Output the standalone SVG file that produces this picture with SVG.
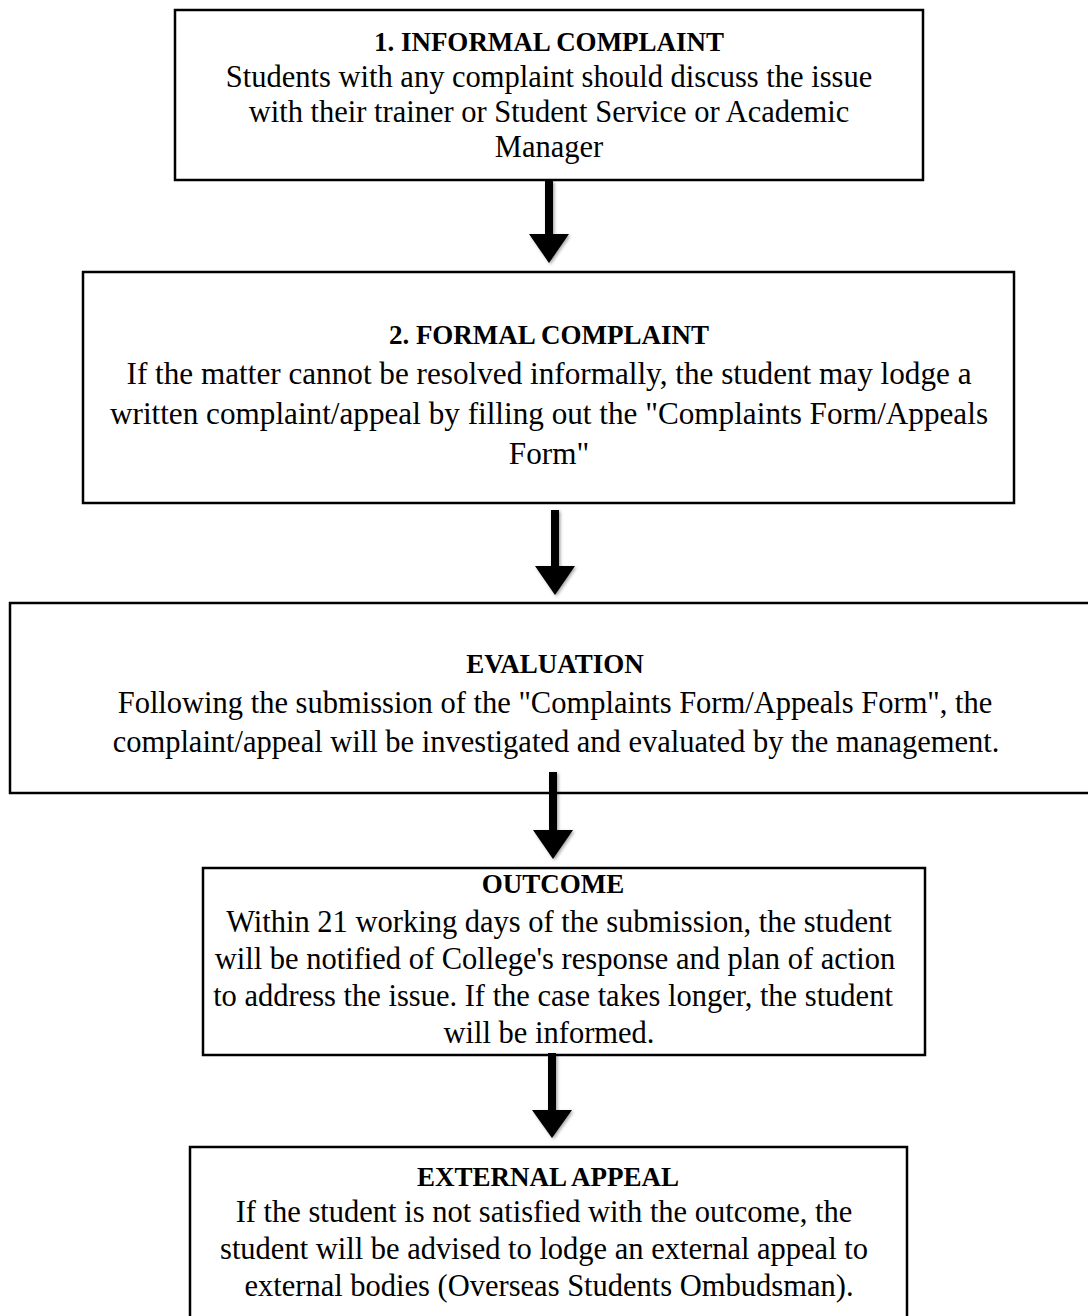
<svg xmlns="http://www.w3.org/2000/svg" width="1088" height="1316" viewBox="0 0 1088 1316">
<style>
.box{fill:#fff;stroke:#000;stroke-width:2.5}
.t{font-family:"Liberation Serif","Times New Roman",serif;font-weight:bold;font-size:27px;fill:#000;text-anchor:middle}
.b{font-family:"Liberation Serif","Times New Roman",serif;font-size:30.5px;fill:#000;text-anchor:middle}
.b2{font-size:31.2px}
.arrow{fill:#000}
</style>
<defs>
<filter id="sh" x="-10%" y="-10%" width="130%" height="130%">
<feDropShadow dx="1.5" dy="1.5" stdDeviation="1.5" flood-color="#000" flood-opacity="0.35"/>
</filter>
</defs>
<rect width="1088" height="1316" fill="#fff"/>
<g id="n1">
<rect class="box" x="175" y="10" width="748" height="170"/>
<text class="t" x="549" y="51">1. INFORMAL COMPLAINT</text>
<text class="b" x="549" y="87">Students with any complaint should discuss the issue</text>
<text class="b" x="549" y="122">with their trainer or Student Service or Academic</text>
<text class="b" x="549" y="157">Manager</text>
</g>
<g id="n2">
<rect class="box" x="83" y="272" width="931" height="231"/>
<text class="t" x="549" y="344">2. FORMAL COMPLAINT</text>
<text class="b b2" x="549" y="384">If the matter cannot be resolved informally, the student may lodge a</text>
<text class="b b2" x="549" y="424">written complaint/appeal by filling out the "Complaints Form/Appeals</text>
<text class="b b2" x="549" y="464">Form"</text>
</g>
<g id="n3">
<rect class="box" x="10" y="603" width="1090" height="190"/>
<text class="t" x="555" y="673">EVALUATION</text>
<text class="b" x="555" y="713">Following the submission of the "Complaints Form/Appeals Form", the</text>
<text class="b" x="556" y="752">complaint/appeal will be investigated and evaluated by the management.</text>
</g>
<g id="n4">
<rect class="box" x="203" y="868" width="722" height="187"/>
<text class="t" x="553" y="893">OUTCOME</text>
<text class="b" x="559" y="932">Within 21 working days of the submission, the student</text>
<text class="b" x="555" y="969">will be notified of College's response and plan of action</text>
<text class="b" x="553" y="1006">to address the issue. If the case takes longer, the student</text>
<text class="b" x="549" y="1043">will be informed.</text>
</g>
<g id="n5">
<rect class="box" x="190" y="1147" width="717" height="185"/>
<text class="t" x="548" y="1186">EXTERNAL APPEAL</text>
<text class="b" x="544" y="1222">If the student is not satisfied with the outcome, the</text>
<text class="b" x="544" y="1259">student will be advised to lodge an external appeal to</text>
<text class="b" x="549" y="1296">external bodies (Overseas Students Ombudsman).</text>
</g>
<g id="connectors" filter="url(#sh)">
<path class="arrow" d="M545 181 H553 V234 H569 L549 263 L529 234 H545 Z"/>
<path class="arrow" d="M551 510 H559 V566 H575 L555 595 L535 566 H551 Z"/>
<path class="arrow" d="M549 772 H557 V830 H573 L553 859 L533 830 H549 Z"/>
<path class="arrow" d="M548 1053 H556 V1110 H572 L552 1138 L532 1110 H548 Z"/>
</g>
</svg>
